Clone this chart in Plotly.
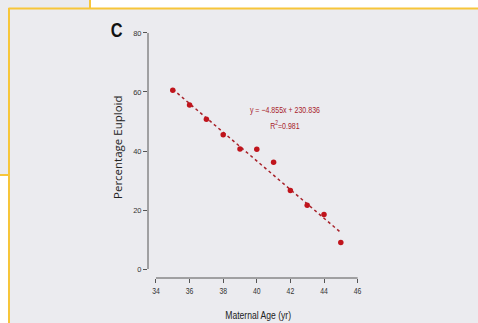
import plotly.graph_objects as go

# Maternal age (years) and percentage of euploid embryos
ages = [35, 36, 37, 38, 39, 40, 41, 42, 43, 44, 45]
euploid_pct = [60.6, 55.6, 50.8, 45.5, 40.7, 40.6, 36.2, 26.6, 21.6, 18.5, 9.0]

# Linear fit reported on the chart
slope = -4.855
intercept = 230.836
r_squared = 0.981
fit_x = [35, 45]
fit_y = [slope * a + intercept for a in fit_x]

x_ticks = [34, 36, 38, 40, 42, 44, 46]
y_ticks = [0, 20, 40, 60, 80]

W, H = 478, 323
L, R, T, B = 148, 112, 27, 45
PW, PH = W - L - R, H - T - B

def px(x, y):
    """Pixel position on the page -> paper coordinates."""
    return (x - L) / PW, (H - B - y) / PH

BG = "#ebebef"
YELLOW = "#f7c63a"
AXIS = "#555555"
RED = "#c0141c"
DARKRED = "#a8222a"
SANS = "Liberation Sans, Arial, sans-serif"

def font(size, color):
    return dict(family=SANS, size=size, color=color)

fig = go.Figure()

fig.add_trace(go.Scatter(
    x=fit_x, y=fit_y, mode="lines",
    line=dict(color=DARKRED, width=1.5, dash="dot"),
    hoverinfo="skip", showlegend=False,
))
fig.add_trace(go.Scatter(
    x=ages, y=euploid_pct, mode="markers",
    marker=dict(color=RED, size=5.5),
    showlegend=False,
))

shapes = []

# page panels: white gaps and yellow frame edges
def rect(x0, y0, x1, y1, color):
    a0, b0 = px(x0, y0)
    a1, b1 = px(x1, y1)
    shapes.append(dict(type="rect", xref="paper", yref="paper",
                       x0=a0, y0=b0, x1=a1, y1=b1,
                       fillcolor=color, line=dict(width=0), layer="below"))

def seg(x0, y0, x1, y1, color, width):
    a0, b0 = px(x0, y0)
    a1, b1 = px(x1, y1)
    shapes.append(dict(type="line", xref="paper", yref="paper",
                       x0=a0, y0=b0, x1=a1, y1=b1,
                       line=dict(color=color, width=width), layer="below"))

rect(90, -2, W + 2, 8, "white")
rect(-2, 175, 9, H + 2, "white")
seg(90, -2, 90, 8.5, YELLOW, 2)
seg(-2, 175, 9, 175, YELLOW, 2)
seg(8.5, 8.5, W + 2, 8.5, YELLOW, 2)
seg(9, 8, 9, H + 2, YELLOW, 2)

# detached axis spines
shapes.append(dict(type="line", xref="x", yref="paper",
                   x0=x_ticks[0], x1=x_ticks[-1], y0=0, y1=0,
                   line=dict(color=AXIS, width=1)))
shapes.append(dict(type="line", xref="paper", yref="y",
                   x0=0, x1=0, y0=y_ticks[0], y1=y_ticks[-1],
                   line=dict(color=AXIS, width=1)))

annotations = [
    dict(x=41.7, y=53.9, xref="x", yref="y", showarrow=False,
         xanchor="center", yanchor="middle",
         text="y = \u22124.855x + 230.836", font=font(9, DARKRED)),
    dict(x=41.7, y=48.8, xref="x", yref="y", showarrow=False,
         xanchor="center", yanchor="middle",
         text=f"R<sup>2</sup>={r_squared}", font=font(9, DARKRED)),
]

def page_text(x, y, text, fnt, angle=0):
    a, b = px(x, y)
    annotations.append(dict(x=a, y=b, xref="paper", yref="paper", showarrow=False,
                            xanchor="center", yanchor="middle",
                            text=text, textangle=angle, font=fnt))

page_text(258, 315, "Maternal Age (yr)", font(11, "#222222"))
page_text(117, 147, "Percentage Euploid",
          dict(family="Open Sans, sans-serif", size=11.5, color="#222222"), angle=-90)
page_text(116, 30, "<b>C</b>", font(21, "#111111"))

fig.update_layout(
    width=W, height=H,
    margin=dict(l=L, r=R, t=T, b=B, pad=0),
    paper_bgcolor=BG, plot_bgcolor=BG,
    shapes=shapes, annotations=annotations,
    xaxis=dict(range=[33.525, 46.5], tickvals=x_ticks, ticks="outside",
               ticklen=4, tickcolor=AXIS, showline=False, showgrid=False,
               zeroline=False, tickfont=font(9.5, "#333333")),
    yaxis=dict(range=[-3.05, 82.03], tickvals=y_ticks, ticks="outside",
               ticklen=4, tickcolor=AXIS, showline=False, showgrid=False,
               zeroline=False, tickfont=font(7.5, "#333333")),
)

# condensed lettering: squeeze the sans-serif labels horizontally
condense_js = """
var gd = document.getElementById('{plot_id}');
function squeeze(sel, k) {
  gd.querySelectorAll(sel).forEach(function (t) {
    if (t.textContent.indexOf('Percentage') >= 0) { return; }
    var w = t.getComputedTextLength();
    t.setAttribute('textLength', (w * k).toFixed(2));
    t.setAttribute('lengthAdjust', 'spacingAndGlyphs');
  });
}
squeeze('g.xtick text', 0.72);
squeeze('text.annotation-text', 0.78);
"""

fig.write_html("out.html", post_script=condense_js)
